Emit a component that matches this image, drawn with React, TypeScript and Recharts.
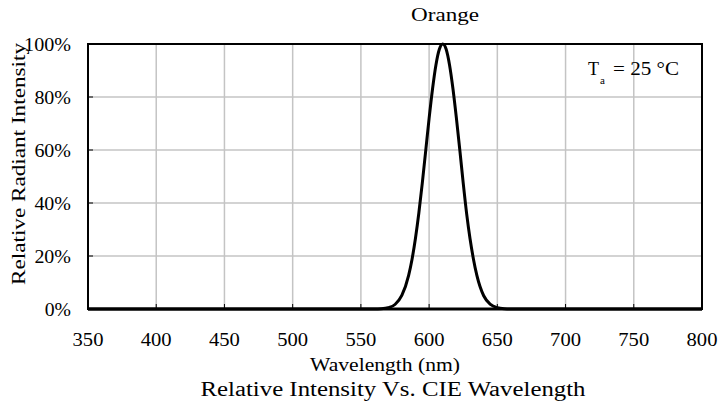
import { LineChart, Line, XAxis, YAxis, CartesianGrid, ReferenceArea } from 'recharts';

// spectrum (nm, % of peak)
const wavelength = [350, 400, 450, 500, 550, 560, 565, 570, 575, 580, 585, 587.5, 590, 592.5, 595, 597.5, 600, 602.5, 605, 607.5, 610, 612.5, 615, 617.5, 620, 622.5, 625, 627.5, 630, 632.5, 635, 640, 645, 650, 655, 660, 700, 750, 800];
const intensity = [0, 0, 0, 0, 0, 0, 0.1, 0.5, 1.7, 5.1, 12.7, 18.8, 26.7, 36.3, 47.5, 59.7, 71.9, 83, 92.1, 98, 100, 98, 92, 83, 72, 60, 47.5, 36, 26.5, 18.8, 12.7, 5, 1.7, 0.5, 0.1, 0, 0, 0, 0];

const xTicks = [350, 400, 450, 500, 550, 600, 650, 700, 750, 800];
const yTicks = [0, 20, 40, 60, 80, 100];

const seriesName = 'Orange';
const chartTitle = 'Relative Intensity Vs. CIE Wavelength';
const xTitle = 'Wavelength (nm)';
const yTitle = 'Relative Radiant Intensity';

const data = wavelength.map((wl, i) => ({ wl, value: intensity[i] }));

const FONT = 'Tinos, "Times New Roman", Times, "Noto Serif", "DejaVu Serif", "Liberation Serif", serif';

// widths measured on the reference, so the labels keep their footprint
const textWidth = (s: string) => s.split('').reduce((w, c) => w + (c === '%' ? 16 : 10.3), 0);

const XTick = ({ x, y, payload }: any) => (
  <text x={x} y={y + 37} textAnchor="middle" fontFamily={FONT} fontSize={18} fill="#000"
    textLength={textWidth(String(payload.value))} lengthAdjust="spacingAndGlyphs">
    {payload.value}
  </text>
);

const YTick = ({ x, y, payload }: any) => {
  const label = `${payload.value}%`;
  const w = textWidth(label);
  return (
    <text x={x - w} y={y + 7} textAnchor="start" fontFamily={FONT} fontSize={18} fill="#000"
      textLength={w} lengthAdjust="spacingAndGlyphs">
      {label}
    </text>
  );
};

export default function App() {
  return (
    <div style={{ position: 'absolute', left: 0, top: 0, width: 718, height: 411, background: '#fff' }}>
      <LineChart width={718} height={411} data={data} margin={{ top: 44, right: 16, left: 0, bottom: 0 }}>
        <CartesianGrid stroke="#c4c4c4" strokeWidth={1.5} />
        <XAxis
          dataKey="wl"
          type="number"
          domain={[350, 800]}
          ticks={xTicks}
          height={102}
          tick={XTick}
          tickSize={-5}
          tickMargin={5}
          tickLine={{ stroke: '#000', strokeWidth: 1 }}
          axisLine={{ stroke: '#000', strokeWidth: 3 }}
        />
        <YAxis
          type="number"
          domain={[0, 100]}
          ticks={yTicks}
          width={88}
          tick={YTick}
          tickSize={-5}
          tickMargin={22}
          tickLine={{ stroke: '#000', strokeWidth: 1 }}
          axisLine={{ stroke: '#000', strokeWidth: 2 }}
        />
        <ReferenceArea x1={350} x2={800} y1={0} y2={100} fill="none" stroke="#000" strokeWidth={2} ifOverflow="visible" />
        <Line
          type="monotone"
          dataKey="value"
          stroke="#000"
          strokeWidth={3}
          dot={false}
          isAnimationActive={false}
        />
      </LineChart>
      <svg width={718} height={411} style={{ position: 'absolute', left: 0, top: 0, pointerEvents: 'none' }} fontFamily={FONT} fill="#000">
        <text x={445} y={21} textAnchor="middle" fontSize={18} textLength={68} lengthAdjust="spacingAndGlyphs">{seriesName}</text>
        <text x={385} y={371} textAnchor="middle" fontSize={18} textLength={150} lengthAdjust="spacingAndGlyphs">{xTitle}</text>
        <text x={393} y={396} textAnchor="middle" fontSize={20} textLength={385} lengthAdjust="spacingAndGlyphs">{chartTitle}</text>
        <text x={25} y={164} textAnchor="middle" fontSize={18} textLength={242} lengthAdjust="spacingAndGlyphs" transform="rotate(-90 25 164)">{yTitle}</text>
        <text x={588} y={75} fontSize={18}>T</text>
        <text x={600} y={84} fontSize={11}>a</text>
        <text x={613} y={75} fontSize={18} textLength={66} lengthAdjust="spacingAndGlyphs">= 25 °C</text>
      </svg>
    </div>
  );
}
